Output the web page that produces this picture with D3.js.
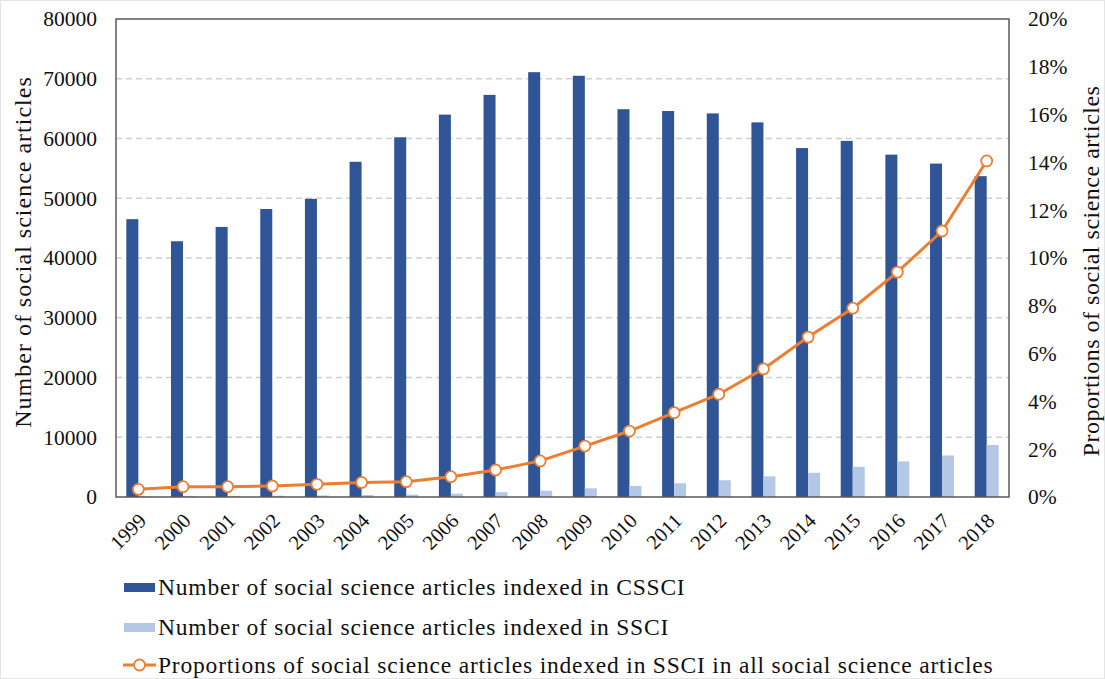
<!DOCTYPE html>
<html>
<head>
<meta charset="utf-8">
<script src="https://cdn.jsdelivr.net/npm/d3@7.9.0/dist/d3.min.js"></script>
<style>
  body { margin: 0; background: #fff; }
  #fig text { font-family: 'Liberation Serif' !important; }
</style>
</head>
<body>
<svg id="fig" width="1105" height="679"></svg>
<script>
const years = ["1999", "2000", "2001", "2002", "2003", "2004", "2005", "2006", "2007", "2008",
  "2009", "2010", "2011", "2012", "2013", "2014", "2015", "2016", "2017", "2018"];
const cssci = [46500, 42800, 45200, 48200, 49900, 56100, 60200, 64000, 67300, 71100,
  70500, 64900, 64600, 64200, 62700, 58400, 59600, 57300, 55800, 53700];
const ssci = [150, 190, 200, 220, 270, 340, 400, 560, 800, 1050,
  1450, 1850, 2300, 2800, 3450, 4050, 5050, 5950, 6950, 8700];
const proportion = [0.0032, 0.0043, 0.0043, 0.0046, 0.0053, 0.0061, 0.0064, 0.0085, 0.0113, 0.0151,
  0.0213, 0.0276, 0.0353, 0.0430, 0.0536, 0.0669, 0.0790, 0.0941, 0.1113, 0.1406];
const leftTicks = [0, 10000, 20000, 30000, 40000, 50000, 60000, 70000, 80000];
const rightTicks = [0, 0.02, 0.04, 0.06, 0.08, 0.10, 0.12, 0.14, 0.16, 0.18, 0.20];
const legendLabels = [
  "Number of social science articles indexed in CSSCI",
  "Number of social science articles indexed in SSCI",
  "Proportions of social science articles indexed in SSCI in all social science articles"
];

const FONT = "'Liberation Serif'";
const colCssci = "#2f5597", colSsci = "#b4c7e7", colLine = "#ed7d31";
const plot = { left: 116, right: 1009, top: 19, bottom: 497 };

const svg = d3.select("#fig");

// faint outer frame
svg.append("rect").attr("x", 0.5).attr("y", 0.5).attr("width", 1104).attr("height", 678)
  .attr("fill", "none").attr("stroke", "#e4e4e4");

const x = d3.scaleBand().domain(years).range([plot.left, plot.right]).paddingInner(0).paddingOuter(0);
const barW = 12;
const yL = d3.scaleLinear().domain([0, 80000]).range([plot.bottom, plot.top]);
const yR = d3.scaleLinear().domain([0, 0.20]).range([plot.bottom, plot.top]);

// gridlines
svg.append("g").selectAll("line")
  .data(leftTicks.filter(t => t > 0 && t < 80000))
  .join("line")
  .attr("x1", plot.left).attr("x2", plot.right)
  .attr("y1", d => yL(d)).attr("y2", d => yL(d))
  .attr("stroke", "#d0d0d0").attr("stroke-width", 1.3).attr("stroke-dasharray", "6,4");

// bars
svg.append("g").selectAll("rect")
  .data(years)
  .join("rect")
  .attr("x", d => x(d) + x.bandwidth() / 2 - barW)
  .attr("y", (d, i) => yL(cssci[i]))
  .attr("width", barW)
  .attr("height", (d, i) => plot.bottom - yL(cssci[i]))
  .attr("fill", colCssci);

svg.append("g").selectAll("rect")
  .data(years)
  .join("rect")
  .attr("x", d => x(d) + x.bandwidth() / 2)
  .attr("y", (d, i) => yL(ssci[i]))
  .attr("width", barW)
  .attr("height", (d, i) => plot.bottom - yL(ssci[i]))
  .attr("fill", colSsci);

// plot border
svg.append("rect")
  .attr("x", plot.left).attr("y", plot.top)
  .attr("width", plot.right - plot.left).attr("height", plot.bottom - plot.top)
  .attr("fill", "none").attr("stroke", "#595959").attr("stroke-width", 1.5);

// line
const line = d3.line()
  .x((d, i) => x(years[i]) + x.bandwidth() / 2)
  .y(d => yR(d));
svg.append("path")
  .datum(proportion)
  .attr("d", line)
  .attr("fill", "none")
  .attr("stroke", colLine)
  .attr("stroke-width", 3);
svg.append("g").selectAll("circle")
  .data(proportion)
  .join("circle")
  .attr("cx", (d, i) => x(years[i]) + x.bandwidth() / 2)
  .attr("cy", d => yR(d))
  .attr("r", 5.5)
  .attr("fill", "#fff")
  .attr("stroke", colLine)
  .attr("stroke-width", 1.8);

// axes
const leftAxis = svg.append("g")
  .attr("transform", "translate(" + plot.left + ",0)")
  .call(d3.axisLeft(yL).tickValues(leftTicks).tickSize(0).tickPadding(19).tickFormat(d3.format("d")));
leftAxis.select(".domain").remove();
leftAxis.attr("font-family", FONT);
leftAxis.selectAll("text").attr("fill", "#111").attr("font-size", 21.5);

const rightAxis = svg.append("g")
  .attr("transform", "translate(" + plot.right + ",0)")
  .call(d3.axisRight(yR).tickValues(rightTicks).tickSize(0).tickPadding(19).tickFormat(d3.format(".0%")));
rightAxis.select(".domain").remove();
rightAxis.attr("font-family", FONT);
rightAxis.selectAll("text").attr("fill", "#111").attr("font-size", 21.5);

const bottomAxis = svg.append("g")
  .attr("transform", "translate(0," + plot.bottom + ")")
  .call(d3.axisBottom(x).tickSize(0).tickPadding(0));
bottomAxis.select(".domain").remove();
bottomAxis.attr("font-family", FONT);
bottomAxis.selectAll("text")
  .attr("fill", "#111")
  .attr("font-size", 20.5)
  .attr("text-anchor", "end")
  .attr("dy", "0.35em")
  .attr("transform", "translate(4,20) rotate(-45)");

// axis titles
svg.append("text")
  .attr("transform", "translate(31,252) rotate(-90)")
  .attr("text-anchor", "middle")
  .attr("fill", "#111")
  .attr("font-size", 24)
  .attr("letter-spacing", 1)
  .text("Number of social science articles");

svg.append("text")
  .attr("transform", "translate(1099,271) rotate(-90)")
  .attr("text-anchor", "middle")
  .attr("fill", "#111")
  .attr("font-size", 24)
  .attr("letter-spacing", 0.5)
  .text("Proportions of social science articles");

// legend
const legend = svg.append("g").attr("transform", "translate(124,0)");
const rowY = [587, 627, 665];
legend.append("rect").attr("x", 0).attr("y", rowY[0] - 4).attr("width", 31).attr("height", 9).attr("fill", colCssci);
legend.append("rect").attr("x", 0).attr("y", rowY[1] - 4).attr("width", 31).attr("height", 9).attr("fill", colSsci);
legend.append("line").attr("x1", -1).attr("x2", 32).attr("y1", rowY[2]).attr("y2", rowY[2])
  .attr("stroke", colLine).attr("stroke-width", 3);
legend.append("circle").attr("cx", 15.5).attr("cy", rowY[2]).attr("r", 5.5)
  .attr("fill", "#fff").attr("stroke", colLine).attr("stroke-width", 1.8);
legend.selectAll("text.lg")
  .data(legendLabels)
  .join("text")
  .attr("class", "lg")
  .attr("x", 34)
  .attr("y", (d, i) => rowY[i])
  .attr("dy", "0.35em")
  .attr("fill", "#111")
  .attr("font-size", 23.5)
  .attr("letter-spacing", 0.8)
  .text(d => d);
</script>
</body>
</html>
